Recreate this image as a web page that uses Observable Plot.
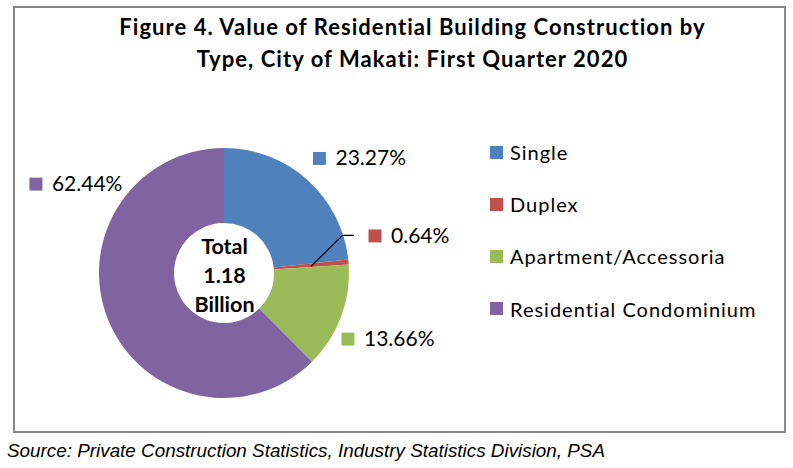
<!DOCTYPE html>
<html><head><meta charset="utf-8">
<script src="https://cdn.jsdelivr.net/npm/d3@7"></script>
<script src="https://cdn.jsdelivr.net/npm/@observablehq/plot@0.6"></script>
<style>
body{margin:0;background:#fff;}
#wrap{position:relative;width:793px;height:468px;overflow:hidden;background:#fff;font-family:Lato,"Open Sans",sans-serif;}
#box{position:absolute;left:13px;top:6px;width:769px;height:423px;border:2.5px solid #878787;}
#title{position:absolute;left:25px;width:775px;top:11px;text-align:center;font-weight:bold;font-size:22px;letter-spacing:1.05px;line-height:32px;color:#000;}
#chart{position:absolute;left:0;top:0;}
#legend{position:absolute;left:490px;top:126px;font-size:20px;letter-spacing:1px;color:#000;}
.row{height:52.2px;display:flex;align-items:center;}
.sw{width:13px;height:13px;margin-right:7px;flex:none;}
#source{position:absolute;left:7px;top:440px;font-family:"Liberation Sans",Arial,sans-serif;font-style:italic;font-size:18.85px;color:#000;white-space:nowrap;}
</style></head>
<body>
<div id="wrap">
  <div id="box"></div>
  <div id="chart"></div>
  <div id="title">Figure 4. Value of Residential Building Construction by<br>Type, City of Makati: First Quarter 2020</div>
  <div id="legend"></div>
  <div id="source">Source: Private Construction Statistics, Industry Statistics Division, PSA</div>
</div>
<script>
// ---- data ----
const categories = ["Single", "Duplex", "Apartment/Accessoria", "Residential Condominium"];
const shares = [23.27, 0.64, 13.66, 62.44];
const labels = ["23.27%", "0.64%", "13.66%", "62.44%"];
const colors = ["#4F81BD", "#C0504D", "#9BBB59", "#8064A2"];
const totalLabel = "Total";
const totalValue = "1.18";
const totalUnit = "Billion";

// ---- layout (pixels) ----
const innerRatio = 0.4;        // hole radius / outer radius
const leaderRatio = 0.7;       // where the leader line starts
const labelNudge = {           // label square offset from slice outer edge mid-point, px
  "Single": [11.5, -22],
  "Duplex": [26, -26.5],
  "Apartment/Accessoria": [6.5, 21.5],
  "Residential Condominium": [-73, -137]
};
const xRange = [99, 349], yRange = [398, 148];
const pxPerUnit = (xRange[1] - xRange[0]) / 2;

const rows = categories.map((c, i) => ({category: c, share: shares[i], label: labels[i]}));
const slices = d3.pie().sort(null).value(d => d.share)(rows);
slices.forEach(s => {
  s.mid = (s.startAngle + s.endAngle) / 2;
  s.ex = Math.sin(s.mid); s.ey = Math.cos(s.mid);
});

const arcs = Plot.dot(slices, {
  x: () => 0, y: () => 0, fill: d => d.data.category,
  render: (index, scales, values, dimensions, context) => {
    const cx = scales.x(0), cy = scales.y(0);
    const R = scales.x(1) - cx, r = scales.x(innerRatio) - cx;
    const arc = d3.arc().innerRadius(r).outerRadius(R);
    const g = d3.create("svg:g").attr("transform", `translate(${cx},${cy})`);
    g.selectAll("path").data(slices).join("path")
      .attr("d", arc)
      .attr("fill", d => scales.color(d.data.category));
    return g.node();
  }
});

const labelMarks = [];
slices.forEach(s => {
  const [dx, dy] = labelNudge[s.data.category];
  labelMarks.push(Plot.dot([s], {x: "ex", y: "ey", dx, dy, symbol: "square", r: 7.3, fill: d => d.data.category}));
  labelMarks.push(Plot.text([s], {x: "ex", y: "ey", dx: dx + 16, dy, text: d => d.data.label, textAnchor: "start", fontSize: 21, fill: "#000", fontFamily: "Lato"}));
});

// leader line for the small Duplex slice
const dup = slices.find(s => s.data.category === "Duplex");
const [ndx, ndy] = labelNudge["Duplex"];
const lx = dup.ex + ndx / pxPerUnit, ly = dup.ey - ndy / pxPerUnit;
const leader = [
  {x: dup.ex * leaderRatio, y: dup.ey * leaderRatio},
  {x: lx - 32.5 / pxPerUnit, y: ly + 0.5 / pxPerUnit},
  {x: lx - 21.5 / pxPerUnit, y: ly + 0.5 / pxPerUnit}
];

const chart = Plot.plot({
  width: 793, height: 468, margin: 0,
  x: {domain: [-1, 1], range: xRange, axis: null},
  y: {domain: [-1, 1], range: yRange, axis: null},
  color: {domain: categories, range: colors},
  style: {background: "transparent", overflow: "visible"},
  marks: [
    arcs,
    Plot.line(leader, {x: "x", y: "y", stroke: "#000", strokeWidth: 1.2}),
    ...labelMarks,
    Plot.text([0], {x: () => 0, y: () => 0, text: () => `${totalLabel}\n${totalValue}\n${totalUnit}`,
      fontWeight: "bold", fontSize: 21.5, lineHeight: 1.35, fill: "#000", fontFamily: "Lato"})
  ]
});
document.getElementById("chart").appendChild(chart);

// legend
const leg = document.getElementById("legend");
categories.forEach((c, i) => {
  const row = document.createElement("div"); row.className = "row";
  const sw = document.createElement("div"); sw.className = "sw"; sw.style.background = colors[i];
  const t = document.createElement("span"); t.textContent = c;
  row.appendChild(sw); row.appendChild(t); leg.appendChild(row);
});
</script>
</body></html>
